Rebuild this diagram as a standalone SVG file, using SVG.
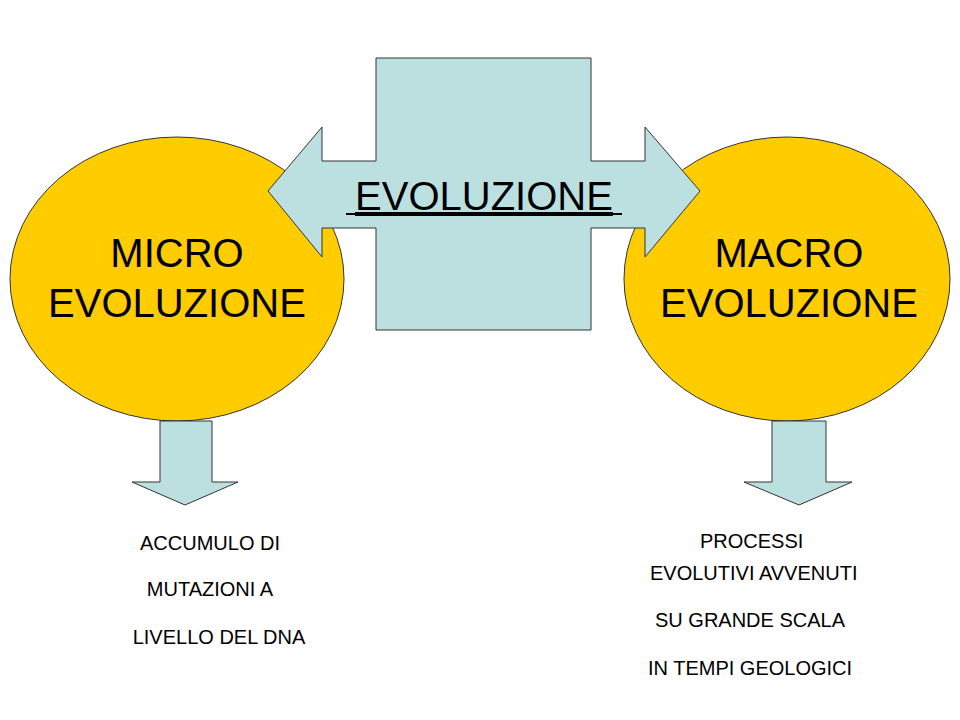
<svg xmlns="http://www.w3.org/2000/svg" width="960" height="720" viewBox="0 0 960 720">
<style>
.e{fill:#FFCC00;stroke:#333;stroke-width:1}
.b{fill:#BCE0E0;stroke:#333;stroke-width:1}
.t{font-family:"Liberation Sans",Arial,sans-serif;fill:#000;text-anchor:middle}
.big{font-size:40px}
.sm{font-size:20px}
</style>
<rect width="960" height="720" fill="#fff"/>
<g id="micro"><ellipse class="e" cx="177" cy="279" rx="167" ry="142"/>
<text class="t big" x="177" y="267">MICRO</text><text class="t big" x="177" y="317">EVOLUZIONE</text></g>
<g id="macro"><ellipse class="e" cx="787" cy="279" rx="163" ry="142"/>
<text class="t big" x="789" y="267">MACRO</text><text class="t big" x="789" y="317">EVOLUZIONE</text></g>
<g id="evoluzione">
<path class="b" d="M268,191 L322,127 L322,161 L645,161 L645,127 L700,191 L645,257 L645,228 L322,228 L322,257 Z"/>
<rect x="376" y="58" width="215" height="272" fill="#BCE0E0"/>
<path d="M376,161 V58 H591 V161 M376,228 V330 H591 V228" fill="none" stroke="#333"/>
<text class="t big" x="484" y="210" text-decoration="underline">EVOLUZIONE</text>
<line x1="346" y1="214" x2="622" y2="214" stroke="#000" stroke-width="2"/>
</g>
<g id="connectors">
<path class="b" d="M160,421 H212 V482 H238 L185,505 L132,482 H160 Z"/>
<path class="b" d="M772,421 H826 V482 H852 L799,505 L744,482 H772 Z"/>
</g>
<g id="left-text"><text class="t sm" x="210" y="550">ACCUMULO DI</text>
<text class="t sm" x="210" y="596">MUTAZIONI A</text>
<text class="t sm" x="219" y="644">LIVELLO DEL DNA</text></g>
<g id="right-text" style="text-anchor:start">
<text class="t sm" x="700" y="548" style="text-anchor:start">PROCESSI</text>
<text class="t sm" x="650" y="580" style="text-anchor:start">EVOLUTIVI AVVENUTI</text>
<text class="t sm" x="655" y="627" style="text-anchor:start">SU GRANDE SCALA</text>
<text class="t sm" x="648" y="675" style="text-anchor:start">IN TEMPI GEOLOGICI</text></g>
</svg>
